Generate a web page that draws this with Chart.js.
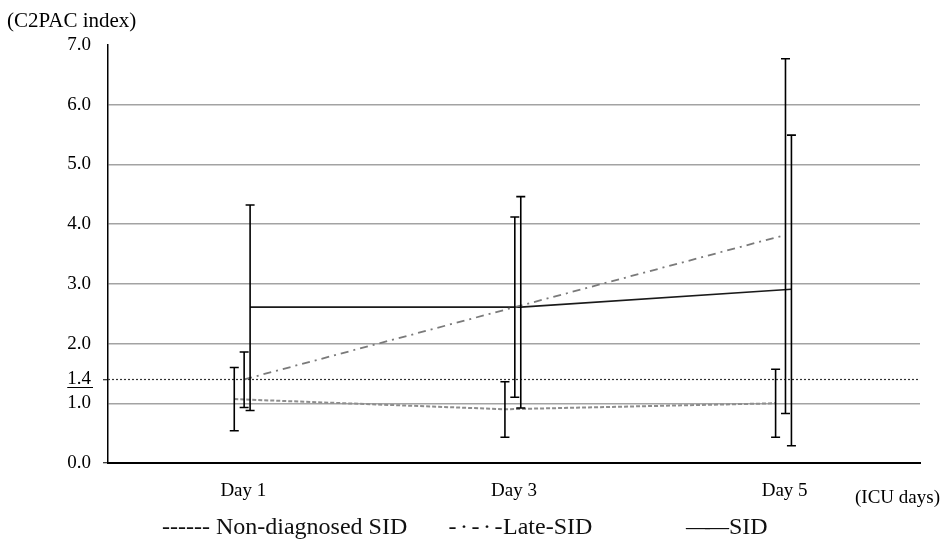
<!DOCTYPE html>
<html><head><meta charset="utf-8">
<script src="https://cdn.jsdelivr.net/npm/chart.js@4.4.1/dist/chart.umd.min.js"></script>
<style>html,body{margin:0;padding:0;background:#fff;}canvas{display:block;}</style>
</head><body>
<canvas id="c" width="947" height="541"></canvas>
<script>
// ---- data ----
const dayLabels = ['Day 1', 'Day 3', 'Day 5'];
const dayValues = [1, 3, 5];
const yTickValues = [0, 1, 1.4, 2, 3, 4, 5, 6, 7];
const thresholdValue = 1.4;

const nonDiagMean = [1.07, 0.90, 1.00];
const nonDiagLow  = [0.54, 0.43, 0.43];
const nonDiagHigh = [1.60, 1.36, 1.57];

const lateMean = [1.40, 2.61, 3.82];
const lateLow  = [0.93, 1.10, 0.83];
const lateHigh = [1.86, 4.12, 6.77];

const sidMean = [2.61, 2.61, 2.91];
const sidLow  = [0.88, 0.92, 0.29];
const sidHigh = [4.32, 4.46, 5.49];

const seriesNames = ['Non-diagnosed SID', 'Late-SID', 'SID'];
const yAxisTitle = '(C2PAC index)';
const xAxisTitle = '(ICU days)';

// ---- styling ----
const FONT = "'Liberation Serif', 'Times New Roman', serif";
const shifts = [-0.067, 0.006, 0.05]; // horizontal cluster offset (day units)

function pts(mean, shift) { return dayValues.map((d, i) => ({ x: d + shift, y: mean[i] })); }

const datasets = [
  { label: seriesNames[0], data: pts(nonDiagMean, shifts[0]), errLow: nonDiagLow, errHigh: nonDiagHigh,
    borderColor: '#8e8e8e', borderWidth: 2, borderDash: [4, 2], pointRadius: 0, tension: 0, fill: false },
  { label: seriesNames[1], data: pts(lateMean, shifts[1]), errLow: lateLow, errHigh: lateHigh,
    borderColor: '#7a7a7a', borderWidth: 1.8, borderDash: [8, 5, 2, 5], pointRadius: 0, tension: 0, fill: false },
  { label: seriesNames[2], data: pts(sidMean, shifts[2]), errLow: sidLow, errHigh: sidHigh,
    borderColor: '#1a1a1a', borderWidth: 1.6, pointRadius: 0, tension: 0, fill: false }
];

const refPlugin = {
  id: 'refPlugin',
  beforeDatasetsDraw(chart) {
    const { ctx, chartArea, scales: { y } } = chart;
    const py = Math.round(y.getPixelForValue(thresholdValue)) + 0.5;
    ctx.save();
    ctx.strokeStyle = '#333';
    ctx.lineWidth = 1.2;
    ctx.setLineDash([2, 2]);
    ctx.beginPath();
    ctx.moveTo(chartArea.left, py);
    ctx.lineTo(chartArea.right, py);
    ctx.stroke();
    ctx.restore();
  },
  afterDatasetsDraw(chart) {
    const { ctx, scales: { x, y } } = chart;
    ctx.save();
    ctx.strokeStyle = '#000';
    ctx.lineWidth = 1.6;
    ctx.setLineDash([]);
    chart.data.datasets.forEach(ds => {
      ds.data.forEach((p, i) => {
        const px = x.getPixelForValue(p.x);
        const yl = y.getPixelForValue(ds.errLow[i]);
        const yh = y.getPixelForValue(ds.errHigh[i]);
        ctx.beginPath();
        ctx.moveTo(px, yh); ctx.lineTo(px, yl);
        ctx.moveTo(px - 4.5, yh); ctx.lineTo(px + 4.5, yh);
        ctx.moveTo(px - 4.5, yl); ctx.lineTo(px + 4.5, yl);
        ctx.stroke();
      });
    });
    ctx.restore();
  },
  afterDraw(chart) {
    const { ctx, chartArea, scales: { y } } = chart;
    ctx.save();
    ctx.fillStyle = '#000';
    ctx.textBaseline = 'alphabetic';
    ctx.textAlign = 'left';
    // axis titles
    ctx.font = '21px ' + FONT;
    ctx.fillText(yAxisTitle, 7, 27);
    ctx.font = '19px ' + FONT;
    ctx.fillText(xAxisTitle, 855, 503);
    // underline of threshold tick label
    ctx.font = '19px ' + FONT;
    const lbl = thresholdValue.toFixed(1);
    const w = ctx.measureText(lbl).width;
    const right = chartArea.left - 16;
    const uy = Math.round(y.getPixelForValue(thresholdValue)) + 8.5;
    ctx.strokeStyle = '#000';
    ctx.lineWidth = 1;
    ctx.beginPath();
    ctx.moveTo(right - w - 1, uy); ctx.lineTo(right + 1, uy);
    ctx.stroke();
    // legend
    ctx.fillStyle = '#111';
    ctx.font = '24px ' + FONT;
    const base = 534;
    ctx.fillText('------ ' + seriesNames[0], 162, base);
    if ('letterSpacing' in ctx) ctx.letterSpacing = '3.5px';
    ctx.fillText('-\u00b7-\u00b7-', 448.5, base);
    if ('letterSpacing' in ctx) ctx.letterSpacing = '0px';
    ctx.fillText(seriesNames[1], 503, base);
    if ('letterSpacing' in ctx) ctx.letterSpacing = '-5px';
    ctx.fillText('\u2014\u2014', 686, base);
    if ('letterSpacing' in ctx) ctx.letterSpacing = '0px';
    ctx.fillText(seriesNames[2], 729, base);
    ctx.restore();
  }
};

new Chart(document.getElementById('c'), {
  type: 'line',
  data: { datasets },
  options: {
    responsive: false,
    animation: false,
    devicePixelRatio: 1,
    layout: { padding: { top: 45, right: 27, left: 0, bottom: 0 } },
    plugins: { legend: { display: false }, tooltip: { enabled: false } },
    scales: {
      x: {
        type: 'linear', min: 0, max: 6,
        afterBuildTicks(scale) { scale.ticks = dayValues.map(v => ({ value: v })); },
        afterFit(scale) { scale.height = 78; },
        grid: { display: false },
        border: { display: true, color: '#000', width: 2 },
        ticks: {
          autoSkip: false, maxRotation: 0, padding: 9, color: '#000',
          font: { family: FONT, size: 19 },
          callback: v => dayLabels[dayValues.indexOf(v)]
        }
      },
      y: {
        type: 'linear', min: 0, max: 7,
        afterBuildTicks(scale) { scale.ticks = yTickValues.map(v => ({ value: v })); },
        afterFit(scale) { scale.width = 108; },
        grid: {
          drawTicks: true, tickLength: 5, lineWidth: 1.5,
          color: c => { const v = c.tick && c.tick.value; return (Number.isInteger(v) && v >= 1 && v <= 6) ? '#a3a3a3' : 'rgba(0,0,0,0)'; },
          tickColor: c => { const v = c.tick && c.tick.value; return (v === 0 || v === thresholdValue) ? '#000' : 'rgba(0,0,0,0)'; },
          tickWidth: 1
        },
        border: { display: true, color: '#000', width: 1.5 },
        ticks: {
          autoSkip: false, padding: 12, color: '#000',
          font: { family: FONT, size: 19 },
          callback: v => Number(v).toFixed(1)
        }
      }
    }
  },
  plugins: [refPlugin]
});
</script>
</body></html>
